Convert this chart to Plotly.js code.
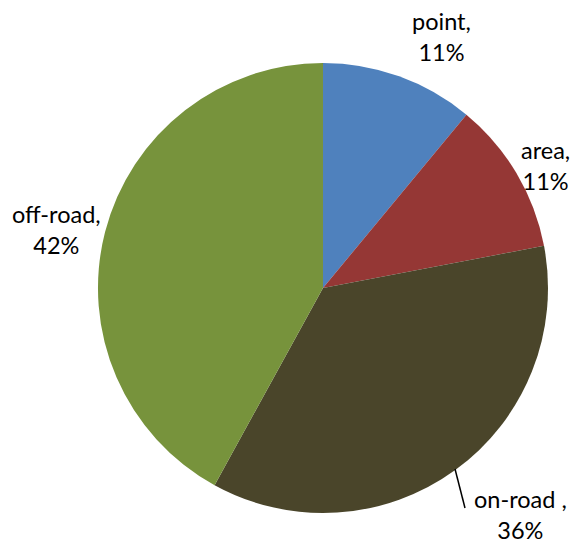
<!DOCTYPE html>
<html>
<head>
<meta charset="utf-8">
<script src="https://cdn.plot.ly/plotly-3.0.1.min.js"></script>
<style>html,body{margin:0;padding:0;background:#fff;}#chart{width:574px;height:543px;}</style>
</head>
<body>
<div id="chart"></div>
<script>
var categories = ["point", "area", "on-road", "off-road"];
var values = [11, 11, 36, 42];
var labelText = ["point,<br>11%", "area,<br>11%", "on-road ,<br>36%", "off-road,<br>42%"];
var colors = ["#4F81BD", "#953735", "#4A452A", "#77933C"];

var labelPos = [[0.7700, 0.9337], [0.9495, 0.696], [0.906, 0.0534], [0.0993, 0.578]];

var trace = {
  type: "pie",
  labels: categories,
  values: values,
  sort: false,
  direction: "clockwise",
  rotation: 0,
  textinfo: "none",
  hoverinfo: "label+percent",
  marker: {colors: colors, line: {width: 0}},
  domain: {x: [0.1707, 0.9547], y: [0.0552, 0.884]},
  showlegend: false
};

var annotations = labelText.map(function(t, i) {
  return {
    text: t, xref: "paper", yref: "paper",
    x: labelPos[i][0], y: labelPos[i][1],
    xanchor: "center", yanchor: "middle",
    showarrow: false,
    font: {family: "Lato, 'Open Sans', sans-serif", size: 23.5, color: "#000"}
  };
});

var layout = {
  width: 574, height: 543,
  margin: {l: 0, r: 0, t: 0, b: 0},
  paper_bgcolor: "#fff",
  annotations: annotations,
  shapes: [{type: "line", xref: "paper", yref: "paper", x0: 0.7927, y0: 0.1362, x1: 0.8101, y1: 0.0645, line: {color: "#000", width: 1.5}}]
};

Plotly.newPlot("chart", [trace], layout, {displayModeBar: false});
</script>
</body>
</html>
